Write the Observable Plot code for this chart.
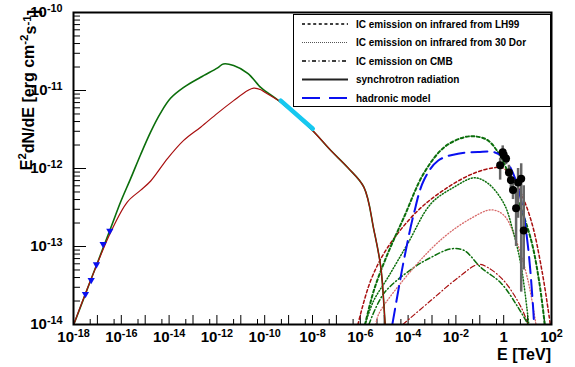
<!DOCTYPE html>
<html><head><meta charset="utf-8">
<script src="https://cdn.jsdelivr.net/npm/d3@7"></script>
<script src="https://cdn.jsdelivr.net/npm/@observablehq/plot@0.6"></script>
<style>body{margin:0;background:#fff;}svg{display:block}</style>
</head><body><div id="chart"></div>
<script>
// ---- data (log10 E [TeV], log10 E^2dN/dE [erg cm^-2 s^-1]) ----
const syncGreen = [[-18.05,-14.05],[-17.29,-13.44],[-16.45,-12.77],[-16.03,-12.43],[-15.61,-12.13],[-15.19,-11.82],[-14.77,-11.53],[-14.36,-11.29],[-13.94,-11.10],[-13.39,-10.96],[-12.68,-10.83],[-11.97,-10.71],[-11.73,-10.66],[-11.30,-10.68],[-10.71,-10.78],[-10.17,-10.96],[-9.96,-11.01]];
const syncRed = [[-18.05,-14.05],[-17.29,-13.44],[-16.45,-12.82],[-15.75,-12.43],[-15.20,-12.28],[-14.77,-12.16],[-14.06,-11.87],[-13.39,-11.64],[-12.68,-11.47],[-11.97,-11.29],[-11.30,-11.13],[-10.71,-11.00],[-10.46,-10.97],[-10.16,-10.99],[-9.96,-11.03]];
const syncTail = [[-9.33,-11.15],[-8.07,-11.49],[-7.23,-11.77],[-6.52,-11.99],[-5.85,-12.24],[-5.43,-12.79],[-5.14,-13.27],[-4.97,-13.95],[-4.93,-14.10]];
const xrayBand = [[-9.33,-11.13],[-7.99,-11.49]];
const radioPoints = [[-17.50,-13.61],[-17.26,-13.43],[-17.04,-13.23],[-16.76,-12.97],[-16.48,-12.80]];

const icLH99Green = [[-5.80,-14.00],[-5.43,-13.56],[-4.85,-13.09],[-4.18,-12.63],[-3.34,-12.06],[-2.50,-11.73],[-1.66,-11.60],[-1.16,-11.59],[-0.66,-11.64],[-0.11,-11.86],[0.60,-12.41],[1.15,-12.92],[1.48,-13.44],[1.72,-14.00]];
const icLH99Red = [[-6.10,-14.00],[-5.57,-13.44],[-4.85,-13.01],[-3.59,-12.54],[-2.33,-12.24],[-1.24,-12.06],[-0.40,-11.99],[0.01,-12.00],[0.60,-12.24],[1.15,-12.67],[1.60,-13.31],[1.95,-14.00]];
const ic30DorGreen = [[-5.80,-14.00],[-5.45,-13.70],[-4.85,-13.40],[-4.01,-12.96],[-3.04,-12.45],[-2.08,-12.24],[-1.24,-12.12],[-0.66,-12.19],[0.01,-12.45],[0.38,-12.79],[0.73,-13.25],[1.05,-14.00]];
const ic30DorRed = [[-5.35,-14.00],[-5.22,-13.86],[-3.76,-13.27],[-2.50,-12.88],[-1.37,-12.64],[-0.53,-12.53],[0.01,-12.60],[0.52,-12.92],[1.02,-13.44],[1.35,-14.00]];
const icCMBGreen = [[-5.64,-14.00],[-5.01,-13.60],[-3.76,-13.27],[-3.04,-13.14],[-2.21,-13.03],[-1.66,-13.05],[-0.95,-13.27],[-0.11,-13.47],[0.60,-13.78],[1.02,-14.00]];
const icCMBRed = [[-4.22,-14.00],[-3.04,-13.69],[-1.91,-13.40],[-1.07,-13.23],[-0.66,-13.27],[0.01,-13.44],[0.73,-13.78],[1.02,-14.00]];
const hadronic = [[-4.66,-14.00],[-4.43,-13.60],[-4.18,-13.18],[-3.76,-12.58],[-3.34,-12.15],[-2.75,-11.90],[-1.91,-11.81],[-1.07,-11.79],[-0.40,-11.79],[0.01,-11.86],[0.39,-12.06],[0.73,-12.41],[1.02,-13.01],[1.23,-13.78],[1.27,-14.00]];

// HESS points: E [TeV], flux, low, high
const hessE  = [0.71, 0.91, 1.0, 1.26, 1.66, 2.0, 2.45, 4.0, 5.4, 3.3, 6.9];
const hessF  = [1.1e-12, 1.62e-12, 1.48e-12, 1.34e-12, 8.9e-13, 7.1e-13, 5.3e-13, 6.6e-13, 7.4e-13, 3.1e-13, 1.6e-13];
const hessLo = [7.1e-13, 1.26e-12, 1.25e-12, 1.12e-12, 7.2e-13, 5.6e-13, 4.0e-13, 2.3e-13, 2.6e-14, 1.0e-13, 5.0e-14];
const hessHi = [1.35e-12, 1.95e-12, 1.75e-12, 1.6e-12, 1.1e-12, 9.0e-13, 7.0e-13, 1.0e-12, 1.15e-12, 5.5e-13, 6.0e-13];

const xLabelTicks = [1e-18,1e-16,1e-14,1e-12,1e-10,1e-8,1e-6,1e-4,1e-2,1,1e2];
const yLabelTicks = [1e-14,1e-13,1e-12,1e-11,1e-10];
const legendLabels = ["IC emission on infrared from LH99","IC emission on infrared from 30 Dor","IC emission on CMB","synchrotron radiation","hadronic model"];

// ---- build tables ----
const toRows = a => a.map(([le, lf]) => ({E: 10 ** le, F: 10 ** lf}));
const hess = hessE.map((E, i) => ({E, F: hessF[i], lo: hessLo[i], hi: hessHi[i]}));
const xDecades = d3.range(-18, 3).map(e => 10 ** e);
const xHalf = d3.range(-18, 2).map(e => 5 * 10 ** e);
const yDecades = yLabelTicks;
const yMinor = d3.range(-14, -10).flatMap(e => d3.range(2, 10).map(k => k * 10 ** e));

const W = 575, H = 367, mL = 73, mR = 24, mT = 12, mB = 43;
const pw = W - mL - mR, ph = H - mT - mB;
const FONT = "'Liberation Sans', Arial, Helvetica, sans-serif";
const GREEN = "#0b6e0b", RED = "#a80f0f", PINK = "#d86a6a", BLUE = "#0a10f0";
const fmt = d => { const e = Math.round(Math.log10(d)); return e === 0 ? "1" : "10^" + e; };
const line = (data, stroke, extra = {}) => Plot.line(toRows(data), {x: "E", y: "F", stroke, strokeWidth: 1.5, clip: true, curve: "catmull-rom", ...extra});

const chart = Plot.plot({
  width: W, height: H, marginLeft: mL, marginRight: mR, marginTop: mT, marginBottom: mB,
  x: {type: "log", domain: [1e-18, 1e2]},
  y: {type: "log", domain: [1e-14, 1e-10]},
  style: {fontFamily: FONT, background: "#fff", color: "#000"},
  marks: [
    // inward ticks
    Plot.ruleY(yDecades, {y: d => d, insetRight: pw - 13, stroke: "#000", strokeWidth: 1}),
    Plot.ruleY(yMinor, {y: d => d, insetRight: pw - 7, stroke: "#000", strokeWidth: 1}),
    Plot.ruleX(xDecades, {x: d => d, insetTop: ph - 9, stroke: "#000", strokeWidth: 1}),
    Plot.ruleX(xHalf, {x: d => d, insetTop: ph - 5, stroke: "#000", strokeWidth: 1}),
    Plot.axisX(xLabelTicks, {tickSize: 0, tickPadding: 7, tickFormat: fmt, fontSize: 15, fontWeight: "bold", label: null}),
    Plot.axisY(yLabelTicks, {tickSize: 0, tickPadding: 11, tickFormat: fmt, fontSize: 15, fontWeight: "bold", label: null}),
    // IC curves
    line(icCMBRed, RED, {strokeWidth: 1.2, strokeDasharray: "5,2.5,1,2.5"}),
    line(icCMBGreen, GREEN, {strokeWidth: 1.5, strokeDasharray: "5,2.5,1,2.5"}),
    line(ic30DorRed, PINK, {strokeWidth: 1.3, strokeDasharray: "1,2"}),
    line(ic30DorGreen, GREEN, {strokeWidth: 1.5, strokeDasharray: "1,2"}),
    line(icLH99Red, RED, {strokeWidth: 1.5, strokeDasharray: "3,2.5"}),
    line(icLH99Green, GREEN, {strokeWidth: 2, strokeDasharray: "3,2.5"}),
    // synchrotron
    line(syncGreen.concat(syncTail), GREEN, {strokeWidth: 1.6}),
    line(syncRed.concat(syncTail), RED, {strokeWidth: 1.2}),
    Plot.line(toRows(xrayBand), {x: "E", y: "F", stroke: "#16c8f0", strokeWidth: 4.5, strokeLinecap: "round"}),
    // hadronic
    line(hadronic, BLUE, {strokeWidth: 2, strokeDasharray: "16,7"}),
    // data
    Plot.ruleX(hess, {x: "E", y1: "lo", y2: "hi", stroke: "#666", strokeWidth: 2.5}),
    Plot.dot(hess, {x: "E", y: "F", r: 4, fill: "#000", stroke: "none"}),
    Plot.dot(toRows(radioPoints), {x: "E", y: "F", symbol: "triangle", r: 2.7, fill: BLUE, stroke: "none", rotate: 180}),
    Plot.frame({stroke: "#000", strokeWidth: 2})
  ]
});
document.getElementById("chart").appendChild(chart);

const svg = d3.select(chart);
// superscripts in tick labels
svg.selectAll("text").each(function() {
  const t = this.textContent;
  if (t.includes("^")) {
    const [b, s] = t.split("^");
    const sel = d3.select(this);
    sel.text(null);
    sel.append("tspan").text(b);
    sel.append("tspan").attr("dy", "-0.5em").attr("font-size", "0.72em").text(s);
  }
});

// axis titles
const yt = svg.append("text")
  .attr("transform", "translate(32,10) rotate(-90)")
  .attr("text-anchor", "end").attr("font-size", 16).attr("font-weight", "bold")
  .attr("font-family", FONT);
const sup = (sel, s) => sel.append("tspan").attr("dy", "-0.5em").attr("font-size", "0.72em").text(s);
yt.append("tspan").text("E");
sup(yt, "2");
yt.append("tspan").attr("dy", "0.5em").text("dN/dE [erg cm");
sup(yt, "-2");
yt.append("tspan").attr("dy", "0.5em").text("s");
sup(yt, "-1");
yt.append("tspan").attr("dy", "0.5em").text("]");

svg.append("text").attr("x", 551).attr("y", 360).attr("text-anchor", "end")
  .attr("font-size", 16).attr("font-weight", "bold")
  .attr("font-family", FONT).text("E [TeV]");

// legend
const lg = svg.append("g").attr("text-anchor", "start");
lg.append("rect").attr("x", 293.5).attr("y", 14.5).attr("width", 257).attr("height", 92)
  .attr("fill", "#fff").attr("stroke", "#000").attr("stroke-width", 1);
const legStyles = [
  {stroke: "#000", w: 1.3, dash: "3,2.6"},
  {stroke: "#555", w: 1, dash: "1,1"},
  {stroke: "#000", w: 1.3, dash: "4,2.5,1,2.5"},
  {stroke: "#222", w: 2, dash: null},
  {stroke: BLUE, w: 2, dash: "18,9"}
];
const rowY = [24, 42.5, 61, 79.5, 98];
legendLabels.forEach((lab, i) => {
  const s = legStyles[i];
  lg.append("line").attr("x1", 302).attr("x2", 348).attr("y1", rowY[i]).attr("y2", rowY[i])
    .attr("stroke", s.stroke).attr("stroke-width", s.w).attr("stroke-dasharray", s.dash);
  lg.append("text").attr("x", 356).attr("y", rowY[i] + 3.6).attr("text-anchor", "start")
    .attr("font-size", 10).attr("font-weight", "bold")
    .attr("font-family", FONT).text(lab);
});
</script>
</body></html>
